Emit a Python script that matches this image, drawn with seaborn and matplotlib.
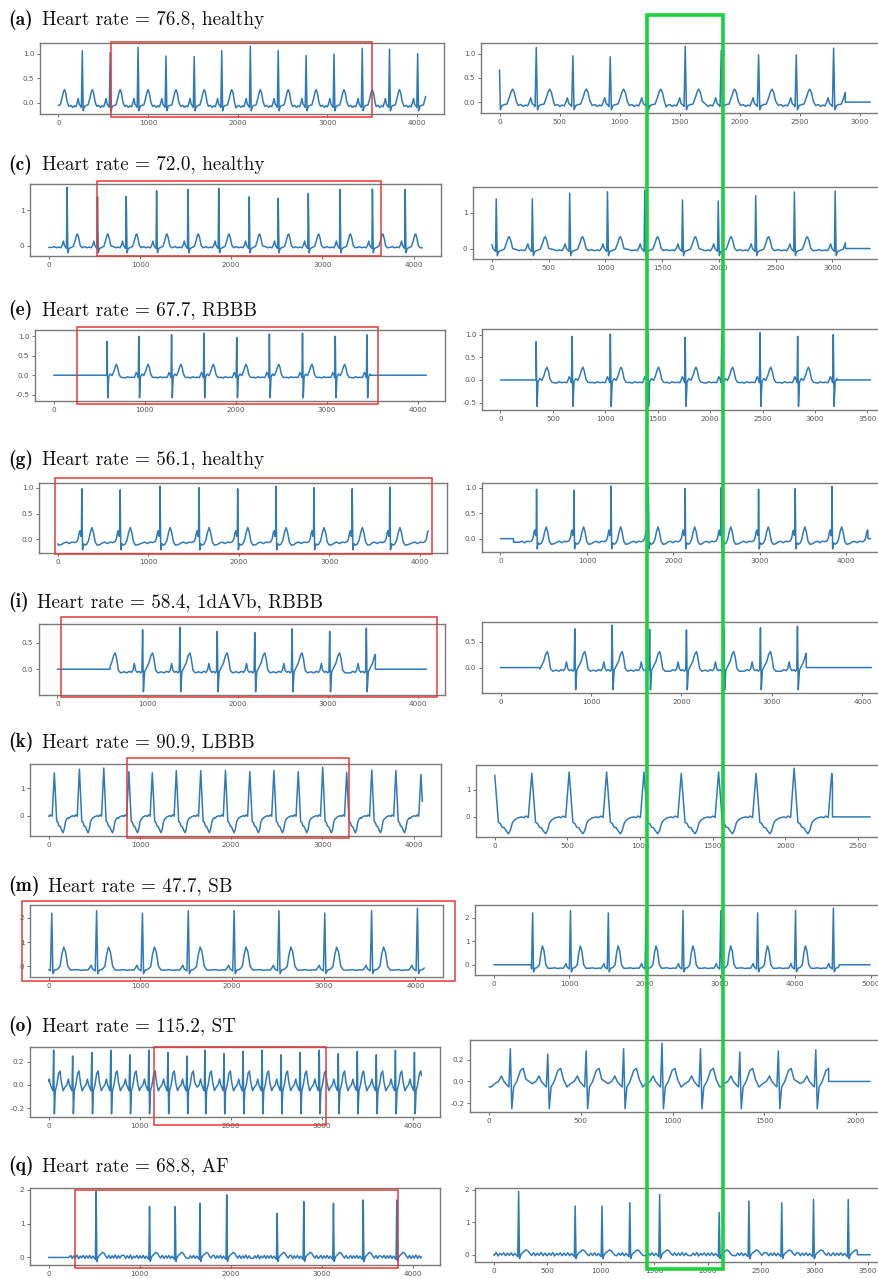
import numpy as np
import matplotlib
matplotlib.use("Agg")
import matplotlib.pyplot as plt
import seaborn as sns
from matplotlib.patches import Rectangle
from matplotlib.ticker import MultipleLocator

# ---------------- data ----------------
titles_letter = ["(a)", "(c)", "(e)", "(g)", "(i)", "(k)", "(m)", "(o)", "(q)"]
titles_text = ["Heart rate = 76.8, healthy", "Heart rate = 72.0, healthy",
               "Heart rate = 67.7, RBBB", "Heart rate = 56.1, healthy",
               "Heart rate = 58.4, 1dAVb, RBBB", "Heart rate = 90.9, LBBB",
               "Heart rate = 47.7, SB", "Heart rate = 115.2, ST",
               "Heart rate = 68.8, AF"]

# beat shapes (sample offset from the R peak, value; None = R peak amplitude)
healthy_a_off = [-150, -128, -108, -90, -72, -58, -46, -34, -20, -10, 0, 10, 24, 45, 65, 85, 100, 112, 126, 142, 158]
healthy_a_val = [-0.07, -0.05, -0.09, -0.06, -0.08, 0.0, 0.09, -0.03, -0.06, -0.09, None, -0.16, -0.07, -0.05,
                 -0.04, 0.10, 0.22, 0.27, 0.20, 0.02, -0.10]
healthy_c_off = [-165, -140, -115, -90, -68, -52, -40, -28, -15, -6, 0, 9, 22, 45, 70, 90, 105, 115, 128, 145, 165]
healthy_c_val = [-0.05, -0.03, -0.06, -0.04, -0.06, 0.02, 0.13, 0.0, -0.05, -0.08, None, -0.2, -0.08, -0.05,
                 -0.02, 0.15, 0.30, 0.33, 0.22, 0.0, -0.06]
healthy_g_off = [-200, -170, -140, -110, -80, -55, -40, -28, -18, -10, -4, 0, 8, 18, 35, 55, 75, 95, 112, 128,
                 148, 170, 200]
healthy_g_val = [-0.07, -0.05, -0.08, -0.05, -0.06, -0.04, 0.02, 0.14, 0.17, 0.06, 0.12, None, -0.2, -0.08,
                 -0.11, -0.09, -0.02, 0.14, 0.23, 0.14, -0.05, -0.11, -0.1]
rbbb_e_off = [-175, -150, -125, -100, -75, -50, -38, -28, -16, -6, 0, 8, 18, 35, 55, 75, 90, 103, 116, 132, 150, 175]
rbbb_e_val = [-0.05, -0.07, -0.04, -0.06, -0.05, -0.06, 0.0, 0.07, 0.02, -0.06, None, -0.58, -0.04, 0.03,
              -0.01, 0.10, 0.22, 0.28, 0.20, 0.02, -0.05, -0.06]
rbbb_i_off = [-205, -175, -150, -125, -108, -92, -78, -60, -40, -22, -8, 0, 9, 22, 45, 70, 92, 111, 126, 145, 170, 205]
rbbb_i_val = [-0.05, -0.07, -0.04, -0.06, -0.02, 0.11, -0.02, -0.06, -0.04, -0.07, -0.04, None, -0.43, -0.05,
              0.03, 0.12, 0.26, 0.31, 0.2, -0.02, -0.07, -0.05]
lbbb_k_off = [-118, -100, -85, -70, -55, -42, -32, -24, 0, 26, 40, 52, 66, 80, 95, 108, 122, 136, 148]
lbbb_k_val = [-0.1, -0.04, -0.02, 0.0, -0.03, 0.03, 0.0, -0.02, None, -0.2, -0.25, -0.38, -0.4, -0.52,
              -0.62, -0.5, -0.22, -0.12, -0.08]
sb_m_off = [-250, -210, -170, -130, -95, -75, -60, -45, -15, 0, 12, 30, 60, 90, 110, 130, 150, 175, 205, 250]
sb_m_val = [-0.15, -0.13, -0.16, -0.14, -0.15, -0.05, 0.05, -0.1, -0.18, None, -0.3, -0.15, -0.12, 0.0, 0.5,
            0.8, 0.6, 0.0, -0.15, -0.15]
st_o_off = [-104, -85, -65, -48, -35, -20, -8, 0, 8, 18, 35, 55, 70, 85, 104]
st_o_val = [-0.05, -0.02, 0.0, 0.05, 0.0, -0.03, -0.05, None, -0.25, -0.05, 0.0, 0.1, 0.12, 0.02, -0.05]
af_q_off = [-300, -280, -262, -245, -228, -210, -192, -175, -158, -140, -122, -105, -88, -70, -52, -36, -20, -8,
            0, 8, 20, 35, 52, 70, 88, 105, 122, 140, 158, 175, 192, 210, 228, 245, 262, 280, 300]
af_q_val = [0.0, 0.06, -0.03, 0.05, -0.02, 0.07, -0.04, 0.04, -0.01, 0.06, -0.03, 0.05, -0.02, 0.06, -0.03,
            0.04, -0.02, -0.06, None, -0.12, 0.0, 0.06, 0.1, 0.15, 0.12, 0.04, -0.02, 0.06, -0.03, 0.05, -0.02,
            0.07, -0.03, 0.05, -0.02, 0.06, 0.0]

# R-peak sample positions and amplitudes; window = [signal start, signal end, record length]
a_left_r = [-44, 267, 578, 889, 1200, 1515, 1822, 2141, 2452, 2763, 3074, 3389, 3693, 4007]
a_left_amp = [1.0, 1.06, 1.02, 1.13, 0.95, 0.94, 1.06, 1.15, 1.06, 0.96, 0.99, 1.11, 1.09, 1.0]
a_left_win = [0, 4096, 4096]
a_right_r = [-3, 306, 611, 922, 1231, 1547, 1847, 2158, 2472, 2783]
a_right_amp = [1.02, 1.13, 0.96, 0.94, 1.06, 1.16, 1.07, 0.98, 0.98, 1.12]
a_right_win = [0, 2880, 3090]

c_left_r = [201, 535, 850, 1183, 1527, 1864, 2198, 2516, 2846, 3194, 3549, 3908]
c_left_amp = [1.65, 1.38, 1.39, 1.55, 1.59, 1.62, 1.38, 1.34, 1.47, 1.59, 1.6, 1.59]
c_left_win = [0, 4096, 4096]
c_right_r = [38, 356, 685, 1018, 1347, 1679, 1994, 2324, 2665, 3024]
c_right_amp = [1.38, 1.38, 1.54, 1.58, 1.62, 1.35, 1.32, 1.47, 1.57, 1.6]
c_right_win = [0, 3115, 3332]

e_left_r = [587, 936, 1296, 1652, 2012, 2371, 2735, 3095, 3443]
e_left_amp = [0.87, 1.0, 1.04, 1.08, 0.97, 1.06, 1.08, 1.0, 1.04]
e_left_win = [587, 3478, 4096]
e_right_r = [340, 683, 1048, 1405, 1762, 2111, 2476, 2835, 3175]
e_right_amp = [0.84, 0.96, 1.01, 1.04, 0.94, 0.99, 1.04, 0.96, 1.0]
e_right_win = [340, 3210, 3530]

g_left_r = [-160, 268, 691, 1132, 1562, 1989, 2412, 2831, 3254, 3669, 4115]
g_left_amp = [1.0, 0.98, 0.96, 1.03, 1.0, 0.98, 1.03, 1.0, 0.98, 1.01, 1.0]
g_left_win = [0, 4096, 4096]
g_right_r = [417, 849, 1278, 1710, 2135, 2552, 2985, 3409, 3834, 4265]
g_right_amp = [0.97, 0.95, 1.03, 1.0, 0.98, 1.0, 0.97, 0.98, 1.02, 1.0]
g_right_win = [150, 4250, 4280]

i_left_r = [531, 945, 1359, 1773, 2190, 2604, 3021, 3428]
i_left_amp = [0.75, 0.75, 0.8, 0.72, 0.7, 0.77, 0.72, 0.78]
i_left_win = [584, 3528, 4096]
i_right_r = [407, 821, 1234, 1648, 2055, 2468, 2873, 3282]
i_right_amp = [0.75, 0.75, 0.82, 0.74, 0.73, 0.75, 0.77, 0.8]
i_right_win = [435, 3380, 4100]

k_left_r = [62, 337, 604, 879, 1136, 1399, 1667, 1938, 2205, 2469, 2736, 3004, 3267, 3542, 3806, 4081]
k_left_amp = [1.56, 1.69, 1.73, 1.6, 1.56, 1.64, 1.64, 1.64, 1.6, 1.64, 1.6, 1.76, 1.58, 1.66, 1.64, 1.5]
k_left_win = [0, 4096, 4096]
k_right_r = [-1, 255, 512, 770, 1027, 1284, 1541, 1799, 2061, 2320]
k_right_amp = [1.6, 1.6, 1.65, 1.65, 1.65, 1.6, 1.65, 1.6, 1.79, 1.6]
k_right_win = [0, 2325, 2585]

m_left_r = [33, 522, 1022, 1522, 2022, 2511, 3011, 3522, 4022]
m_left_amp = [2.2, 2.3, 2.2, 2.3, 2.3, 2.3, 2.2, 2.3, 2.4]
m_left_win = [0, 4096, 4096]
m_right_r = [515, 1017, 1519, 2021, 2510, 3012, 3500, 4003, 4505]
m_right_amp = [2.2, 2.3, 2.2, 2.3, 2.3, 2.3, 2.2, 2.3, 2.4]
m_right_win = [500, 4584, 4993]

o_left_r = [55, 264, 474, 683, 892, 1101, 1311, 1520, 1718, 1927, 2137, 2346, 2555, 2764, 2974, 3183,
            3392, 3601, 3811, 4020]
o_left_amp = [0.3, 0.25, 0.28, 0.3, 0.26, 0.3, 0.28, 0.25, 0.3, 0.27, 0.29, 0.3, 0.26, 0.28, 0.3, 0.27,
              0.29, 0.26, 0.3, 0.28]
o_left_win = [0, 4096, 4096]
o_right_r = [116, 320, 529, 733, 942, 1152, 1366, 1576, 1780]
o_right_amp = [0.3, 0.25, 0.28, 0.3, 0.35, 0.3, 0.27, 0.28, 0.29]
o_right_win = [0, 1850, 2075]

q_left_r = [522, 1109, 1391, 1663, 1957, 2511, 2804, 3130, 3457, 3826]
q_left_amp = [1.95, 1.5, 1.5, 1.6, 1.85, 1.3, 1.65, 1.6, 1.7, 1.7]
q_left_win = [0, 4096, 4096]
q_right_r = [232, 761, 1012, 1272, 1551, 2108, 2386, 2693, 2990, 3315]
q_right_amp = [1.95, 1.5, 1.5, 1.6, 1.85, 1.3, 1.65, 1.6, 1.7, 1.7]
q_right_win = [0, 3400, 3520]

# ---------------- layout / style ----------------
W, H = 879, 1279
LINE = "#2f7ab8"
RED = "#e53935"
GREEN = "#19d23c"

rows = [
    dict(tpl=(healthy_a_off, healthy_a_val, 0.5), L=(a_left_r, a_left_amp, a_left_win), R=(a_right_r, a_right_amp, a_right_win),
         posL=(40, 43, 444, 114), posR=(481, 43, 889, 113), ys=0.5, rx=500, title_y=25, tx=42,
         red=(111, 42, 372, 117)),
    dict(tpl=(healthy_c_off, healthy_c_val, 0.5), L=(c_left_r, c_left_amp, c_left_win), R=(c_right_r, c_right_amp, c_right_win),
         posL=(30, 184, 441, 256), posR=(473, 187, 889, 259), ys=1, rx=500, title_y=170, tx=42,
         red=(97, 181, 381, 256)),
    dict(tpl=(rbbb_e_off, rbbb_e_val, 0.5), L=(e_left_r, e_left_amp, e_left_win), R=(e_right_r, e_right_amp, e_right_win),
         posL=(35, 330, 445, 401), posR=(482, 329, 889, 410), ys=0.5, rx=500, title_y=315, tx=42,
         red=(77, 327, 378, 404)),
    dict(tpl=(healthy_g_off, healthy_g_val, 0.5), L=(g_left_r, g_left_amp, g_left_win), R=(g_right_r, g_right_amp, g_right_win),
         posL=(39, 483, 447, 553), posR=(482, 483, 889, 552), ys=0.5, rx=1000, title_y=465, tx=42,
         red=(55, 478, 432, 554)),
    dict(tpl=(rbbb_i_off, rbbb_i_val, 0.5), L=(i_left_r, i_left_amp, i_left_win), R=(i_right_r, i_right_amp, i_right_win),
         posL=(39, 624, 445, 695), posR=(482, 622, 890, 693), ys=0.5, rx=1000, title_y=607, tx=37,
         red=(61, 617, 437, 697)),
    dict(tpl=(lbbb_k_off, lbbb_k_val, 0.56), L=(k_left_r, k_left_amp, k_left_win), R=(k_right_r, k_right_amp, k_right_win),
         posL=(30, 764, 441, 836), posR=(476, 765, 889, 837), ys=1, rx=500, title_y=747, tx=42,
         red=(127, 758, 349, 838)),
    dict(tpl=(sb_m_off, sb_m_val, 0.5), L=(m_left_r, m_left_amp, m_left_win), R=(m_right_r, m_right_amp, m_right_win),
         posL=(30, 905, 443, 977), posR=(475, 905, 889, 975), ys=1, rx=1000, title_y=891, tx=48,
         red=(22, 901, 455, 981)),
    dict(tpl=(st_o_off, st_o_val, 0.5), L=(o_left_r, o_left_amp, o_left_win), R=(o_right_r, o_right_amp, o_right_win),
         posL=(30, 1047, 440, 1117), posR=(470, 1040, 889, 1112), ys=0.2, rx=500, title_y=1031, tx=42,
         red=(154, 1047, 326, 1125)),
    dict(tpl=(af_q_off, af_q_val, 0.5), L=(q_left_r, q_left_amp, q_left_win), R=(q_right_r, q_right_amp, q_right_win),
         posL=(30, 1188, 440, 1265), posR=(475, 1188, 889, 1262), ys=1, rx=500, title_y=1171, tx=42,
         red=(75, 1190, 398, 1268)),
]


def build(r_list, amp_list, win, off, val, frac):
    """Place the beat shape at each read R peak (split between neighbours); 0 outside the record window."""
    w0, w1, n = win
    ts, vs = [], []
    nb = len(r_list)
    for i, (r, a) in enumerate(zip(r_list, amp_list)):
        lo = -1e9 if i == 0 else r_list[i - 1] + frac * (r - r_list[i - 1])
        hi = 1e9 if i == nb - 1 else r + frac * (r_list[i + 1] - r)
        for o, v in zip(off, val):
            t = r + o
            if lo < t <= hi:
                ts.append(t)
                vs.append(a if v is None else v)
    ts = np.array(ts, float)
    vs = np.array(vs, float)
    keep = (ts > w0) & (ts < w1)
    v0 = float(np.interp(w0, ts, vs))
    v1 = float(np.interp(w1, ts, vs))
    xs, ys = [], []
    if w0 > 0:
        xs += [0, w0]
        ys += [0.0, 0.0]
    xs.append(w0); ys.append(v0)
    xs += list(ts[keep]); ys += list(vs[keep])
    xs.append(w1); ys.append(v1)
    if w1 < n:
        xs += [w1, n]
        ys += [0.0, 0.0]
    return np.array(xs), np.array(ys), n


sns.set_theme(style="white")
plt.rcParams["axes.unicode_minus"] = False

fig = plt.figure(figsize=(W / 100, H / 100), dpi=100)
fig.patch.set_facecolor("white")


def add_ax(pos):
    x0, y0, x1, y1 = pos
    return fig.add_axes([x0 / W, 1 - y1 / H, (x1 - x0) / W, (y1 - y0) / H])


for row in rows:
    off, val, frac = row["tpl"]
    for side, pos, xstep in (("L", row["posL"], 1000), ("R", row["posR"], row["rx"])):
        r_list, amp_list, win = row[side]
        xs, ys, n = build(r_list, amp_list, win, off, val, frac)
        ax = add_ax(pos)
        sns.lineplot(x=xs, y=ys, ax=ax, estimator=None, sort=False, color=LINE, linewidth=1.1)
        ax.set_xlim(-0.05 * n, 1.05 * n)
        ax.xaxis.set_major_locator(MultipleLocator(xstep))
        ax.yaxis.set_major_locator(MultipleLocator(row["ys"]))
        ax.tick_params(axis="both", which="both", bottom=True, left=True, labelsize=5.2,
                       length=2.5, width=0.6, colors="#555555", pad=1.5)
        for sp in ax.spines.values():
            sp.set_color("#7a7a7a")
            sp.set_linewidth(1.0)
        ax.set_xlabel("")
        ax.set_ylabel("")

for row, lt, tt in zip(rows, titles_letter, titles_text):
    yb = 1 - row["title_y"] / H
    fig.text(8 / W, yb, lt, family=["cmb10", "DejaVu Serif"], fontsize=14, va="baseline",
             color="#111111")
    fig.text(row["tx"] / W, yb, tt, family=["cmr10", "DejaVu Serif"], fontsize=13.8, va="baseline",
             color="#111111")
    x0, y0, x1, y1 = row["red"]
    fig.add_artist(Rectangle((x0 / W, 1 - y1 / H), (x1 - x0) / W, (y1 - y0) / H,
                             transform=fig.transFigure, fill=False, edgecolor=RED, linewidth=1.1,
                             zorder=50))

# green highlight spanning the right-hand panels
gx0, gy0, gx1, gy1 = 647, 15, 723, 1269
fig.add_artist(Rectangle((gx0 / W, 1 - gy1 / H), (gx1 - gx0) / W, (gy1 - gy0) / H,
                         transform=fig.transFigure, fill=False, edgecolor=GREEN, linewidth=2.6,
                         zorder=60))

fig.savefig("out.png", dpi=100, facecolor="white")
